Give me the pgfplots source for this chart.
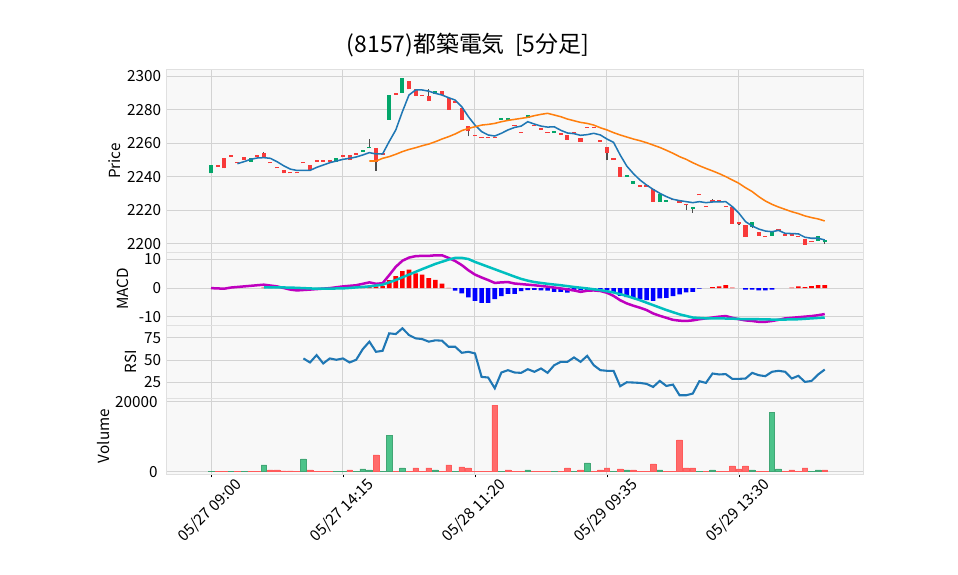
\documentclass[border=0pt]{standalone}
\usepackage{pgfplots}
\pgfplotsset{compat=1.18}
\usepackage{pgfplotstable}
\usepackage{fontspec}
\setmainfont{Noto Sans CJK JP}

\definecolor{upc}{HTML}{03A66A}
\definecolor{downc}{HTML}{F83A3A}
\definecolor{wickc}{HTML}{4D4D4D}
\definecolor{vup}{HTML}{4CC38A}
\definecolor{vdown}{HTML}{FF6B6B}
\definecolor{ma5c}{HTML}{1F77B4}
\definecolor{ma25c}{HTML}{FF7F0E}
\definecolor{macdc}{HTML}{BF00BF}
\definecolor{sigc}{HTML}{00BFBF}
\definecolor{gridc}{HTML}{D3D3D3}
\definecolor{panelbg}{HTML}{F8F8F8}

% candles: i open high low close
\pgfplotstableread{
i o h l c
0 2242 2247 2242 2247
6 2249 2251 2249 2251
19 2249 2251 2249 2251
23 2255 2256 2255 2256
24 2257 2262.5 2257 2258
27 2274 2289 2274 2289
29 2290 2299 2290 2299
34 2289.5 2291 2289.5 2291
44 2274 2275 2274 2275
45 2274 2275 2274 2275
48 2275 2277 2275 2277
52 2266 2267.5 2266 2267.5
63 2240 2241 2240 2241
64 2236 2237.5 2236 2237.5
68 2225 2230 2225 2230
69 2225 2226 2225 2226
73 2221 2222 2218.5 2222
82 2210 2213 2209.5 2213
85 2205 2207 2205 2207
92 2202 2205 2202 2205
93 2201 2202.5 2200 2202.5
}\upcandles

\pgfplotstableread{
i o h l c
1 2247 2247 2246 2246
2 2251 2251 2245 2245
3 2252 2252 2252 2252
4 2248 2248 2248 2248
5 2252 2252 2250 2250
7 2252 2252 2252 2252
8 2254 2255 2252 2252
9 2248 2248 2248 2248
10 2245 2245 2245 2245
11 2244 2244 2242 2242
12 2242 2242 2242 2242
13 2242 2242 2242 2242
14 2248 2248 2248 2248
15 2247 2247 2244 2244
16 2249 2249 2249 2249
17 2249 2249 2249 2249
18 2249 2249 2249 2249
20 2252 2252 2252 2252
21 2253 2253 2250 2250
22 2253 2253 2253 2253
25 2257 2257 2243.5 2249
26 2253 2253 2253 2253
28 2289 2289 2289 2289
30 2297 2297 2292 2292
31 2292 2292 2288 2288
32 2288 2288 2288 2288
33 2288 2292 2285 2285
35 2291 2291 2289 2289
36 2287 2287 2280 2280
37 2284 2284 2284 2284
38 2281 2281 2274 2274
39 2270 2270 2264 2267
40 2264 2264 2264 2264
41 2263 2263 2263 2263
42 2263 2263 2263 2263
43 2263 2263 2263 2263
46 2270 2270 2270 2270
47 2266 2266 2266 2266
49 2270 2270 2270 2270
50 2268 2268 2268 2268
51 2266 2266 2266 2266
53 2265 2265 2265 2265
54 2265 2265 2262 2262
55 2266 2266 2266 2266
56 2263 2263 2261 2261
57 2269 2269 2269 2269
58 2269 2269 2269 2269
59 2261 2261 2261 2261
60 2258 2258 2250 2254
61 2250 2250 2250 2250
62 2246 2246 2240 2240
65 2234 2234 2234 2234
66 2234 2234 2234 2234
67 2233 2233 2225 2225
70 2226 2226 2226 2226
71 2224.5 2224.5 2224.5 2224.5
72 2223 2223 2220 2223
74 2229 2229 2229 2229
75 2222 2222 2222 2222
76 2225 2226.5 2225 2225
77 2225 2225 2225 2225
78 2222 2222 2222 2222
79 2222 2222 2212 2212
80 2212 2212 2211 2212
81 2211 2211 2204 2204
83 2207 2207 2205 2205
84 2204 2204 2204 2204
86 2208 2209 2208 2208
87 2205 2205 2205 2205
88 2206 2206 2205 2205
89 2204 2204 2204 2204
90 2203 2203 2199.5 2199.5
91 2201 2201 2201 2201
}\downcandles

\pgfplotstableread{
i v
0 150
3 150
5 150
8 1900
14 3650
19 150
20 150
22 150
23 770
24 480
26 150
27 10300
29 1050
34 480
37 150
44 150
48 480
52 150
55 150
57 2500
61 150
63 480
68 480
74 150
76 480
82 480
85 16900
86 770
91 150
92 480
}\volup

\pgfplotstableread{
i v
1 150
2 150
4 150
6 150
7 60
9 480
10 480
11 200
12 200
13 60
15 480
16 150
17 150
18 150
21 480
25 4800
28 150
30 150
31 1050
32 150
33 1050
35 150
36 1900
38 1350
39 1050
40 150
41 150
42 100
43 19100
45 480
46 150
47 150
49 150
50 150
51 150
53 150
54 1050
56 480
58 150
59 480
60 1050
62 770
64 480
65 150
66 150
67 2200
69 150
70 60
71 9100
72 1050
73 1050
75 150
77 150
78 150
79 1630
80 770
81 1630
83 150
84 60
87 150
88 480
89 150
90 1050
93 480
}\voldown

\pgfplotsset{
  panel/.style={
    scale only axis, width=501.84pt, anchor=north west,
    xmin=-6.82, xmax=98.8,
    xtick={0,20,...,80},
    axis background/.style={fill=panelbg},
    axis line style={draw=gridc!70},
    grid=major,
    major grid style={line width=0.72pt, draw=gridc},
    tick style={draw=none},
    tick label style={font=\fontsize{11}{12}\selectfont},
    /pgf/number format/assume math mode=true,
    /pgf/number format/1000 sep={},
    scaled y ticks=false,
  },
}

\begin{document}
\begin{tikzpicture}
\path[use as bounding box] (0,0) rectangle (689.76pt,-414pt);

\node[font=\fontsize{16.5}{18}\selectfont] at (336.96pt,-32.4pt) {(8157)都築電気\ \ [5分足]};

% price panel
\begin{axis}[panel, at={(119.52pt,-49.68pt)}, height=132.26pt,
  ymin=2194.8, ymax=2304.2, ytick={2200,2220,...,2300}, xticklabel={}]
\addplot[draw=none, forget plot, error bars/.cd, y dir=plus, y explicit, error mark=none,
  error bar style={line width=0.8pt, draw=wickc}]
  table[x=i, y=l, y error plus expr=\thisrow{h}-\thisrow{l}] {\upcandles};
\addplot[draw=none, forget plot, error bars/.cd, y dir=plus, y explicit, error mark=none,
  error bar style={line width=0.8pt, draw=wickc}]
  table[x=i, y=l, y error plus expr=\thisrow{h}-\thisrow{l}] {\downcandles};
\addplot[draw=none, forget plot, error bars/.cd, y dir=plus, y explicit, error mark=none,
  error bar style={line width=3pt, draw=upc}]
  table[x=i, y=o, y error plus expr={max(\thisrow{c}-\thisrow{o},0.9)}] {\upcandles};
\addplot[draw=none, forget plot, error bars/.cd, y dir=plus, y explicit, error mark=none,
  error bar style={line width=3pt, draw=downc}]
  table[x=i, y=c, y error plus expr={max(\thisrow{o}-\thisrow{c},0.9)}] {\downcandles};
\addplot[ma5c, line width=1.1pt, mark=none] coordinates {
(4,2247.8)(5,2249)(6,2250.4)(7,2251.2)(8,2251.4)(9,2251)(10,2249)(11,2246.6)(12,2244.6)(13,2243.8)(14,2243.8)(15,2243.8)(16,2245.6)(17,2247)(18,2248.4)(19,2249.4)(20,2250.4)(21,2251)(22,2251.8)(23,2253)(24,2254.4)(25,2253.6)(26,2253.6)(27,2261)(28,2267.9)(29,2278.8)(30,2288.7)(31,2291.7)(32,2291.7)(33,2291)(34,2289.7)(35,2288.7)(36,2287.1)(37,2285.7)(38,2281.7)(39,2275.8)(40,2270.8)(41,2266.9)(42,2264.9)(43,2264.3)(44,2265.9)(45,2267.9)(46,2269.4)(47,2270.2)(48,2272.8)(49,2271.4)(50,2270.2)(51,2269.6)(52,2269.8)(53,2267.7)(54,2266.1)(55,2265.7)(56,2264.7)(57,2265.1)(58,2265.9)(59,2264.9)(60,2262.5)(61,2260.5)(62,2253)(63,2246.4)(64,2241.9)(65,2238.1)(66,2235.1)(67,2232.5)(68,2230.2)(69,2228.2)(70,2226.6)(71,2225.8)(72,2225.2)(73,2224.6)(74,2225.2)(75,2224.6)(76,2225)(77,2225)(78,2225.2)(79,2222.2)(80,2218.3)(81,2213.3)(82,2210.7)(83,2208.9)(84,2207.7)(85,2207.3)(86,2208.1)(87,2206.3)(88,2206.2)(89,2206)(90,2204)(91,2203.4)(92,2203.4)(93,2202.4)};
\addplot[ma25c, line width=1.1pt, mark=none] coordinates {
(24,2249.4)(25,2249.4)(26,2251)(27,2252)(28,2253.4)(29,2255)(30,2256.3)(31,2257.3)(32,2258.5)(33,2259.5)(34,2260.9)(35,2262.5)(36,2263.9)(37,2265.5)(38,2267.5)(39,2268.8)(40,2269.8)(41,2270.8)(42,2271.2)(43,2271.8)(44,2272.8)(45,2273.6)(46,2274.2)(47,2274.8)(48,2275.4)(49,2276.4)(50,2277.2)(51,2277.8)(52,2276.8)(53,2275.8)(54,2274.4)(55,2273.4)(56,2272.4)(57,2271.8)(58,2270.8)(59,2269.2)(60,2267.9)(61,2266.3)(62,2264.9)(63,2263.7)(64,2262.5)(65,2261.5)(66,2260.3)(67,2258.9)(68,2257.5)(69,2255.8)(70,2254)(71,2252)(72,2250.4)(73,2248.4)(74,2246.6)(75,2245)(76,2243.5)(77,2241.9)(78,2240.1)(79,2238.1)(80,2236.1)(81,2233.5)(82,2231.2)(83,2228.2)(84,2225.6)(85,2223.6)(86,2222)(87,2220.6)(88,2219.2)(89,2218.1)(90,2216.7)(91,2215.7)(92,2214.9)(93,2213.7)};
\end{axis}

% MACD panel
\begin{axis}[panel, at={(119.52pt,-181.94pt)}, height=52.06pt,
  ymin=-12.8, ymax=12.3, ytick={-10,0,10}, xticklabel={}]
\addplot[ybar, bar width=0.7, bar shift=0pt, fill=red, draw=none] coordinates {
(8,0.2)(9,0.2)(10,0.1)(23,0.5)(24,0.9)(25,0.6)(26,0.7)(27,2.8)(28,4.2)(29,5.9)(30,6.4)(31,5.1)(32,4.7)(33,3.5)(34,2.9)(35,1.6)(36,0.1)(76,0.35)(77,0.6)(78,1.0)(79,0.2)(88,0.2)(89,0.6)(90,0.35)(91,0.7)(92,1.0)(93,1.0)};
\addplot[ybar, bar width=0.7, bar shift=0pt, fill=blue, draw=none] coordinates {
(11,-0.2)(12,-0.3)(13,-0.3)(14,-0.2)(15,-0.1)(37,-0.9)(38,-1.8)(39,-3.2)(40,-4.4)(41,-5.1)(42,-5.1)(43,-3.8)(44,-2.8)(45,-2.0)(46,-2.0)(47,-1.0)(48,-0.7)(49,-0.6)(50,-0.8)(51,-0.9)(52,-1.3)(53,-1.3)(54,-1.6)(55,-1.0)(56,-0.8)(57,-0.6)(58,-0.5)(59,-0.5)(60,-0.8)(61,-1.6)(62,-2.7)(63,-3.1)(64,-3.6)(65,-3.9)(66,-4.2)(67,-4.4)(68,-3.6)(69,-3.4)(70,-2.8)(71,-2.2)(72,-1.5)(73,-1.3)(74,-0.2)(81,-0.5)(82,-0.5)(83,-0.8)(84,-0.8)(85,-0.5)};
\addplot[macdc, line width=1.8pt, mark=none] coordinates {
(0,0)(2,-0.2)(3,0.2)(5,0.6)(8,1.2)(10,0.6)(12,-0.5)(13,-0.8)(15,-0.5)(18,0)(20,0.6)(22,1.0)(24,2.0)(25,1.5)(26,1.7)(27,4.5)(28,7.4)(29,9.5)(30,10.6)(31,11.1)(32,11.2)(33,11.2)(34,11.4)(35,11.4)(36,10.5)(37,9.4)(38,8.0)(39,6.2)(40,4.7)(41,3.7)(42,2.8)(43,1.8)(44,2.0)(45,2.1)(46,1.6)(47,1.4)(49,1.0)(51,0.5)(53,-0.1)(55,-0.8)(56,-1.3)(57,-0.9)(58,-0.8)(59,-1.0)(60,-1.6)(61,-2.7)(62,-4.2)(63,-5.3)(64,-6.1)(65,-6.8)(66,-7.6)(67,-8.8)(68,-9.6)(69,-10.3)(70,-11.0)(71,-11.3)(72,-11.4)(73,-11.2)(74,-10.8)(75,-10.5)(76,-10.2)(77,-9.9)(78,-9.7)(79,-10.3)(80,-10.8)(81,-11.2)(82,-11.4)(83,-11.7)(84,-11.7)(85,-11.4)(86,-11.0)(87,-10.5)(88,-10.3)(89,-10.1)(90,-9.9)(91,-9.7)(92,-9.4)(93,-9.0)};
\addplot[sigc, line width=1.8pt, mark=none] coordinates {
(8,0.3)(12,0.2)(16,-0.2)(20,-0.1)(24,0.6)(26,1.2)(28,2.8)(30,4.7)(32,6.6)(34,8.4)(36,9.9)(37,10.5)(38,10.5)(39,10.1)(40,9.1)(42,7.4)(44,5.7)(46,4.0)(47,3.2)(48,2.6)(49,2.1)(51,1.5)(53,1.0)(55,0.4)(57,-0.1)(59,-0.7)(61,-1.5)(63,-2.7)(65,-4.2)(67,-5.9)(69,-7.6)(71,-9.1)(73,-10.2)(75,-10.5)(77,-10.5)(79,-10.6)(81,-10.8)(83,-10.8)(85,-10.9)(87,-10.9)(89,-10.8)(91,-10.5)(93,-10.2)};
\end{axis}

% RSI panel
\begin{axis}[panel, at={(119.52pt,-234pt)}, height=52.78pt,
  ymin=7.4, ymax=89.2, ytick={25,50,75}, xticklabel={}]
\addplot[ma5c, line width=1.5pt, mark=none] coordinates {
(14,51.9)(15,47.4)(16,55.6)(17,46.3)(18,51.9)(19,50.4)(20,51.9)(21,47.4)(22,50.4)(23,62.3)(24,70.6)(25,59.3)(26,60.4)(27,79.9)(28,79.1)(29,85.5)(30,78)(31,74.3)(32,73.5)(33,70.6)(34,72.1)(35,71.7)(36,64.9)(37,64.9)(38,58.2)(39,59.3)(40,57.5)(41,31.3)(42,30.6)(43,18.6)(44,36.2)(45,38.8)(46,36.2)(47,35.8)(48,39.9)(49,37)(50,40.7)(51,35.8)(52,44.3)(53,48.1)(54,48.1)(55,53)(56,48.1)(57,54.8)(58,44.3)(59,38.8)(60,38.1)(61,38.1)(62,20.9)(63,25.3)(64,25)(65,24.6)(66,23.5)(67,20.1)(68,26.8)(69,21.2)(70,22.7)(71,10.8)(72,10.8)(73,12.7)(74,26.5)(75,24.6)(76,35.1)(77,34)(78,34.4)(79,29.1)(80,29.1)(81,29.5)(82,35.8)(83,33.2)(84,32.1)(85,37)(86,38.1)(87,37)(88,29.5)(89,32.5)(90,25.7)(91,26.8)(92,34)(93,39.5)};
\end{axis}

% volume panel
\begin{axis}[panel, at={(119.52pt,-286.78pt)}, height=54.5pt,
  ymin=-700, ymax=21050, ytick={0,20000},
  xticklabels={05/27 09:00,05/27 14:15,05/28 11:20,05/29 09:35,05/29 13:30},
  xtick pos=left, tick align=outside, major tick length=2.5pt,
  xtick style={draw=black, line width=0.6pt},
  xticklabel style={yshift=-23.8pt, xshift=-0.7pt, rotate=45, anchor=center}]
\addplot[ybar, bar width=0.85, bar shift=0pt, fill=vup, draw=vup!85!black, line width=0.4pt] table[x=i, y=v] {\volup};
\addplot[ybar, bar width=0.85, bar shift=0pt, fill=vdown, draw=vdown!85!red, line width=0.4pt] table[x=i, y=v] {\voldown};
\end{axis}

\node[rotate=90, font=\fontsize{11}{12}\selectfont] at (82.8pt,-115.92pt) {Price};
\node[rotate=90, font=\fontsize{11}{12}\selectfont] at (88.56pt,-208.08pt) {MACD};
\node[rotate=90, font=\fontsize{11}{12}\selectfont] at (94.32pt,-260.4pt) {RSI};
\node[rotate=90, font=\fontsize{11}{12}\selectfont] at (74.88pt,-313.92pt) {Volume};
\end{tikzpicture}
\end{document}
